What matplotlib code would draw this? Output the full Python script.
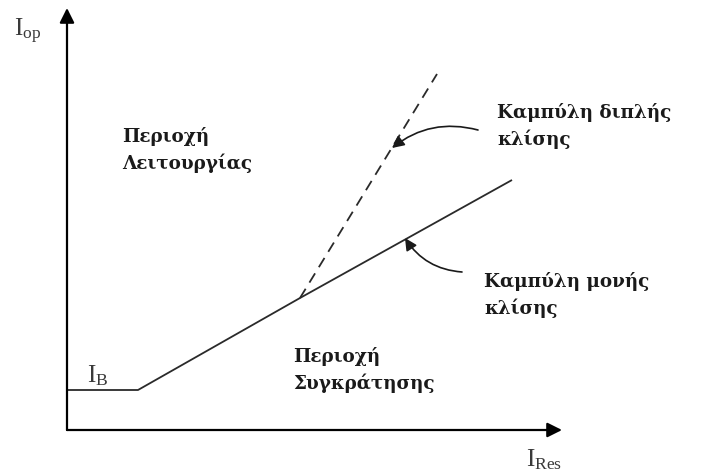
import matplotlib
matplotlib.use("Agg")
import matplotlib.pyplot as plt

plt.rcParams['font.family'] = ['DejaVu Serif', 'Liberation Serif']
plt.rcParams['mathtext.fontset'] = 'custom'
plt.rcParams['mathtext.rm'] = 'Liberation Serif'

# Characteristic (schematic units: restraint current vs operating current)
single_slope_x = [0, 71, 233, 445]
single_slope_y = [40, 40, 132, 250]
dual_slope_x = [233, 370]
dual_slope_y = [132, 356]
axis_x_len = 495
axis_y_len = 422

fig = plt.figure(figsize=(7.02, 4.75), dpi=100)
ax = fig.add_axes([0, 0, 1, 1])
ax.set_xlim(-67, 635)
ax.set_ylim(-45, 430)
ax.axis('off')

# Axes with arrowheads
arrow_kw = dict(arrowstyle='-|>', mutation_scale=22, color='black', lw=1.6,
                shrinkA=0, shrinkB=0)
ax.annotate('', xy=(axis_x_len, 0), xytext=(0, 0), arrowprops=arrow_kw)
ax.annotate('', xy=(0, axis_y_len), xytext=(0, 0), arrowprops=arrow_kw)

# Single-slope curve and dual-slope extension
ax.plot(single_slope_x, single_slope_y, color='#2a2a2a', lw=1.3,
        solid_capstyle='butt')
ax.plot(dual_slope_x, dual_slope_y, color='#2a2a2a', lw=1.3,
        linestyle=(0, (6, 4)))

txt = dict(fontsize=13.2, fontweight='bold', color='#1a1a1a', va='center',
           ha='left', linespacing=1.5)
ax.text(55, 280, 'Περιοχή\nΛειτουργίας', **txt)
ax.text(226, 60, 'Περιοχή\nΣυγκράτησης', **txt)
ax.text(430, 304, 'Καμπύλη διπλής\nκλίσης', **txt)
ax.text(417, 135, 'Καμπύλη μονής\nκλίσης', **txt)

# Axis labels
lab = dict(fontsize=18, color='#3a3a3a', ha='left', va='center')
ax.text(-53, 399, r'$\mathrm{I_{op}}$', **lab)
ax.text(20, 54, r'$\mathrm{I_{B}}$', **lab)
ax.text(459, -30, r'$\mathrm{I_{Res}}$', **lab)

# Curved pointers to the curves
ptr = dict(arrowstyle='-|>', mutation_scale=18, color='#1a1a1a', lw=1.2,
           shrinkA=0, shrinkB=0)
ax.annotate('', xy=(325, 282), xytext=(411, 300),
            arrowprops=dict(connectionstyle='arc3,rad=0.25', **ptr))
ax.annotate('', xy=(338, 192), xytext=(395, 158),
            arrowprops=dict(connectionstyle='arc3,rad=-0.25', **ptr))

fig.savefig('out.png', dpi=100)
